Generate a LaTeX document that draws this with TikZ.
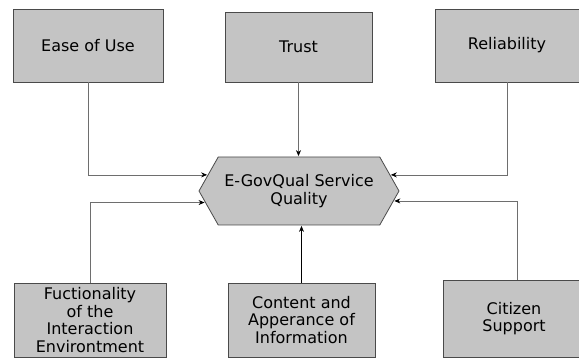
\documentclass[tikz,border=0pt]{standalone}
\usepackage{fontspec}
\setmainfont{DejaVu Sans}
\usepackage{tikz}
\usetikzlibrary{arrows.meta,shapes.symbols}

\definecolor{boxgray}{HTML}{C4C4C4}
\definecolor{edgegray}{HTML}{4A4A4A}
\definecolor{linegray}{HTML}{6E6E6E}

\begin{document}
\begin{tikzpicture}[x=1pt, y=1pt,
			every node/.style = {align=center, text=black, font=\fontsize{16}{17.5}\selectfont},
			factor/.style = {shape=rectangle, draw=edgegray, fill=boxgray, line width=0.8pt, inner sep=0pt},
			quality/.style = {shape=signal, signal to=west and east, signal pointer angle=121,
				draw=edgegray, fill=boxgray, line width=0.8pt, inner sep=0pt,
				minimum width=200pt, minimum height=68pt},
			link/.style = {draw=linegray, line width=0.7pt, -{Stealth[length=6pt,width=5pt,black]}, shorten >=0.5pt}]
			\useasboundingbox (0,0) rectangle (579,358);
			% top row
			\node[factor, minimum width=150pt, minimum height=73pt] (ease) at (88,312.5) {Ease of Use};
			\node[factor, minimum width=147pt, minimum height=70pt] (trust) at (298.5,311) {Trust};
			\node[factor, minimum width=144pt, minimum height=73pt] (reliab) at (507,312.5) {Reliability};
			% centre
			\node[quality] (egov) at (299,167) {E-GovQual Service\\Quality};
			% bottom row
			\node[factor, minimum width=152pt, minimum height=74pt] (func) at (90,38) {Fuctionality\\of the\\Interaction\\Environtment};
			\node[factor, minimum width=147pt, minimum height=74pt] (content) at (301.5,38) {Content and\\Apperance of\\Information};
			\node[factor, minimum width=142pt, minimum height=77pt] (citizen) at (514,39.5) {Citizen\\Support};
			% links into the centre
			\draw[link] (ease.south) |- (egov.170);
			\draw[link] (trust.south) -- (egov.north -| trust.south);
			\draw[link] (reliab.south) |- (egov.10);
			\draw[link] (func.north) |- (egov.187);
			\draw[link, draw=black] (content.north) -- (egov.south -| content.north);
			\draw[link] ([xshift=3pt]citizen.north) |- (egov.-6);
\end{tikzpicture}
\end{document}
